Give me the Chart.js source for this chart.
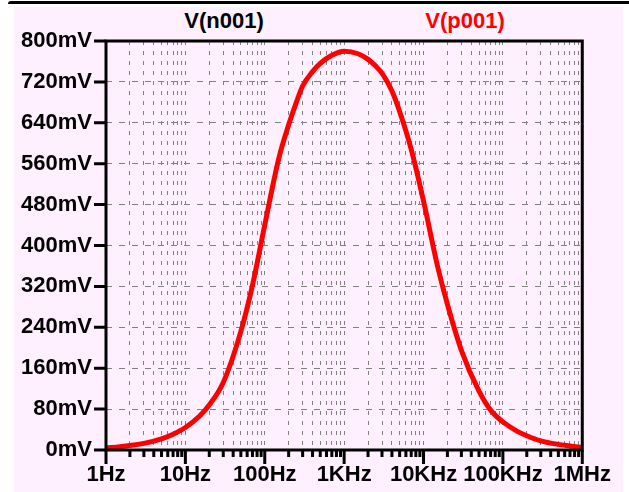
<!DOCTYPE html>
<html>
<head>
<meta charset="utf-8">
<script src="https://cdn.jsdelivr.net/npm/chart.js@4.4.0/dist/chart.umd.min.js"></script>
<style>
  html, body { margin: 0; padding: 0; background: #fff; }
  body { width: 629px; height: 492px; position: relative; overflow: hidden; font-family: "Liberation Sans", Arial, sans-serif; }
  #topline { position: absolute; left: 8px; top: 1px; right: 0; height: 3px; background: #000; border-top-left-radius: 3px; }
  #panel { position: absolute; left: 14px; top: 7px; width: 609px; height: 485px; background: #fff0ff; }
  .trace { position: absolute; top: 3px; font-weight: bold; font-size: 22px; line-height: 22px; transform: translateX(-50%); white-space: nowrap; }
  #chart { position: absolute; left: 0; top: 0; }
</style>
</head>
<body>
<div id="topline"></div>
<div id="panel">
  <div class="trace" style="left:210px;color:#000">V(n001)</div>
  <div class="trace" style="left:451px;color:#ff0000">V(p001)</div>
  <canvas id="chart" width="609" height="485"></canvas>
</div>
<script>
// frekvenser (Hz) og V(p001) i mV, aflæst fra plottet
const freqs = [1, 1.5, 2, 3, 5, 7, 10, 15, 20, 30, 50, 70, 100, 150, 200, 250, 300, 400, 500, 700,
               1000, 1500, 2000, 2500, 3000, 4000, 5000, 7000, 10000, 15000, 20000, 30000, 50000, 70000,
               100000, 150000, 200000, 300000, 500000, 700000, 1000000];
const vp001 = [4, 6.5, 9, 13, 22, 31, 44, 66, 88, 132, 232, 322, 440, 570, 636, 680, 712, 740, 756, 772,
               780, 775, 764, 751, 737, 702, 662, 588, 487, 360, 285, 195, 115, 78,
               55, 37, 28, 18, 11, 8, 5];

const yTicks = [0, 80, 160, 240, 320, 400, 480, 560, 640, 720, 800];
const yLabels = ['0mV', '80mV', '160mV', '240mV', '320mV', '400mV', '480mV', '560mV', '640mV', '720mV', '800mV'];
const xDecades = [1, 10, 100, 1000, 10000, 100000, 1000000];
const xLabels = ['1Hz', '10Hz', '100Hz', '1KHz', '10KHz', '100KHz', '1MHz'];

const tickFont = { family: '"Liberation Sans", Arial, sans-serif', size: 22, weight: 'bold' };

// ramme og tick-streger i LTspice-stil
const ltFrame = {
    id: 'ltFrame',
    afterDatasetsDraw(chart) {
        const { ctx, chartArea: a, scales } = chart;
        ctx.save();
        ctx.strokeStyle = '#000';
        ctx.lineWidth = 3;
        ctx.strokeRect(a.left, a.top, a.right - a.left, a.bottom - a.top);
        ctx.beginPath();
        scales.y.ticks.forEach(t => {
            const py = scales.y.getPixelForValue(t.value);
            ctx.moveTo(a.left - 12, py);
            ctx.lineTo(a.left, py);
        });
        scales.x.ticks.forEach(t => {
            const px = scales.x.getPixelForValue(t.value);
            const len = xDecades.includes(t.value) ? 14 : 7;
            ctx.moveTo(px, a.bottom);
            ctx.lineTo(px, a.bottom + len);
        });
        ctx.stroke();
        ctx.restore();
    }
};

const ctx = document.getElementById('chart').getContext('2d');
new Chart(ctx, {
    type: 'line',
    data: {
        datasets: [{
            label: 'V(p001)',
            data: freqs.map((f, i) => ({ x: f, y: vp001[i] })),
            borderColor: '#ff0000',
            borderWidth: 5,
            pointRadius: 0,
            cubicInterpolationMode: 'monotone',
            fill: false
        }]
    },
    options: {
        responsive: false,
        animation: false,
        devicePixelRatio: 1,
        layout: { padding: { top: 34, right: 31, left: 0, bottom: 0 } },
        plugins: {
            legend: { display: false },
            tooltip: { enabled: false }
        },
        scales: {
            x: {
                type: 'logarithmic',
                min: 1,
                max: 1000000,
                afterFit: scale => { scale.height = 42; },
                afterBuildTicks: scale => {
                    const ticks = [];
                    xDecades.forEach(d => {
                        if (d === 1000000) { ticks.push({ value: d }); return; }
                        for (let k = 1; k <= 9; k++) ticks.push({ value: k * d });
                    });
                    scale.ticks = ticks;
                },
                ticks: {
                    autoSkip: false,
                    maxRotation: 0,
                    padding: 12,
                    color: '#000',
                    font: tickFont,
                    callback: value => {
                        const i = xDecades.indexOf(value);
                        return i >= 0 ? xLabels[i] : '';
                    }
                },
                grid: { color: '#808080', lineWidth: 1, drawTicks: false },
                border: { display: false, dash: [4, 6] }
            },
            y: {
                min: 0,
                max: 800,
                afterFit: scale => { scale.width = 92; },
                afterBuildTicks: scale => { scale.ticks = yTicks.map(v => ({ value: v })); },
                ticks: {
                    autoSkip: false,
                    padding: 14,
                    color: '#000',
                    font: tickFont,
                    callback: value => yLabels[yTicks.indexOf(value)]
                },
                grid: { color: '#808080', lineWidth: 1, drawTicks: false },
                border: { display: false, dash: [6, 7] }
            }
        }
    },
    plugins: [ltFrame]
});
</script>
</body>
</html>
